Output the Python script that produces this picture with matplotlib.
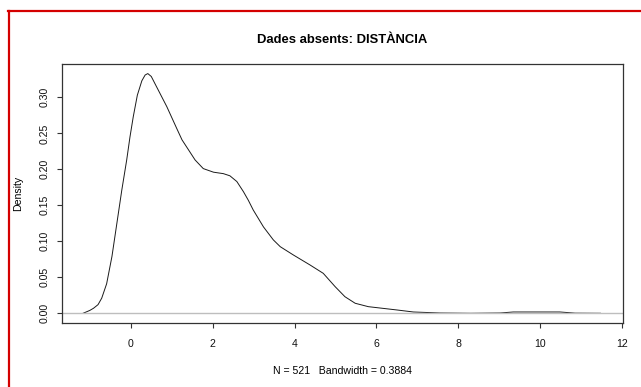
import matplotlib
matplotlib.use("Agg")
import matplotlib.pyplot as plt
from matplotlib.lines import Line2D

# Kernel density estimate of DISTÀNCIA (missing-data subset)
DIST_X = [-1.165, -1.00, -0.91, -0.80, -0.71, -0.59, -0.46, -0.34, -0.22, -0.10,
          -0.02, 0.06, 0.16, 0.27, 0.35, 0.415, 0.50, 0.59, 0.88, 1.12,
          1.25, 1.41, 1.57, 1.77, 2.02, 2.26, 2.42, 2.59, 2.75, 2.87,
          2.99, 3.24, 3.48, 3.65, 3.97, 4.38, 4.70, 4.99, 5.23, 5.48,
          5.80, 6.50, 6.90, 7.55, 8.30, 9.02, 9.34, 10.48, 10.85, 11.47]
DENSITY = [0.000, 0.004, 0.007, 0.012, 0.021, 0.041, 0.079, 0.125, 0.171, 0.213,
           0.245, 0.273, 0.303, 0.323, 0.331, 0.333, 0.329, 0.319, 0.287, 0.257,
           0.241, 0.227, 0.213, 0.201, 0.196, 0.194, 0.191, 0.183, 0.169, 0.157,
           0.1435, 0.120, 0.102, 0.0925, 0.081, 0.067, 0.0555, 0.037, 0.023, 0.0139,
           0.0092, 0.0046, 0.0018, 0.0004, 0.0, 0.0004, 0.0018, 0.0018, 0.0002, 0.0]

N_OBS = 521
BANDWIDTH = 0.3884
X_TICKS = [0, 2, 4, 6, 8, 10, 12]
Y_TICKS = [0.00, 0.05, 0.10, 0.15, 0.20, 0.25, 0.30]

plt.rcParams["font.family"] = ["Liberation Sans", "DejaVu Sans"]

W, H = 641, 387
fig = plt.figure(figsize=(W / 100, H / 100), dpi=100)
ax = fig.add_axes([62 / W, 1 - 323 / H, (623 - 62) / W, (323 - 64) / H])

ax.plot(DIST_X, DENSITY, color="#1a1a1a", linewidth=0.7)
ax.axhline(0, color="#bebebe", linewidth=1.0)

ax.set_xlim(-1.68, 12.02)
ax.set_ylim(-0.0135, 0.3463)
ax.set_xticks(X_TICKS)
ax.set_yticks(Y_TICKS)
ax.set_xticklabels([str(t) for t in X_TICKS])
ax.set_yticklabels([f"{t:.2f}" for t in Y_TICKS])

for sp in ax.spines.values():
    sp.set_color("#333333")
    sp.set_linewidth(0.9)
ax.tick_params(axis="both", length=3.6, width=0.8, color="#333333",
               labelsize=7.6, labelcolor="#111111")
ax.tick_params(axis="x", pad=8)
ax.tick_params(axis="y", pad=5.5)
plt.setp(ax.get_yticklabels(), rotation=90, va="center")

ax.set_title("Dades absents: DISTÀNCIA", fontsize=9.4, fontweight="bold", pad=15)
ax.set_xlabel(f"N = {N_OBS}   Bandwidth = {BANDWIDTH}", fontsize=7.6, labelpad=12)
ax.set_ylabel("Density", fontsize=7.6, labelpad=12)

# red frame around the panel
red = "#d40000"
fig.add_artist(Line2D([9 / W, 9 / W], [0, 1 - 10.5 / H], transform=fig.transFigure,
                      color=red, linewidth=1.6))
fig.add_artist(Line2D([8.2 / W, 1], [1 - 10.5 / H, 1 - 10.5 / H], transform=fig.transFigure,
                      color=red, linewidth=1.6))

fig.savefig("out.png", dpi=100)
